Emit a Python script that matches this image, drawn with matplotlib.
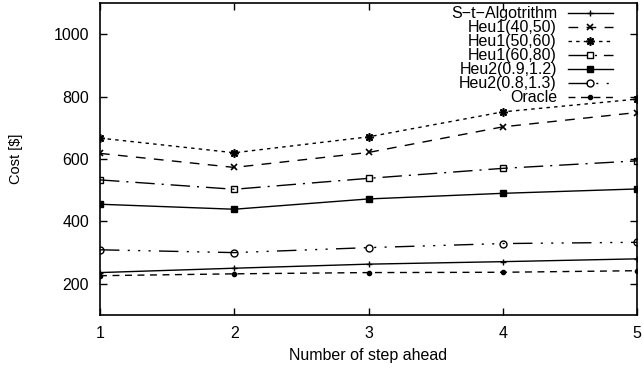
import numpy as np
import matplotlib
matplotlib.use('Agg')
import matplotlib.pyplot as plt

# data
steps = [1, 2, 3, 4, 5]
st_algo = [236, 250, 263, 271, 280]
heu1_40_50 = [618, 573, 621, 703, 749]
heu1_50_60 = [667, 620, 671, 751, 792]
heu1_60_80 = [533, 503, 538, 570, 594]
heu2_09_12 = [455, 439, 472, 490, 504]
heu2_08_13 = [309, 300, 316, 329, 333]
oracle = [226, 232, 236, 237, 242]

labels = ['S\u2212t\u2212Algotrithm', 'Heu1(40,50)', 'Heu1(50,60)', 'Heu1(60,80)',
          'Heu2(0.9,1.2)', 'Heu2(0.8,1.3)', 'Oracle']

plt.rcParams['font.family'] = ['Liberation Sans', 'DejaVu Sans']
plt.rcParams['font.size'] = 11.5

fig = plt.figure(figsize=(6.43, 3.69), dpi=100)
ax = fig.add_axes([0.1555, 0.1463, 0.8352, 0.8456])

kw = dict(color='black', lw=1.0)
ax.plot(steps, st_algo, linestyle='-', marker='+', ms=5, mew=1, label=labels[0], **kw)
ax.plot(steps, heu1_40_50, linestyle=(0, (7, 6)), marker='x', ms=4, mew=1.2, label=labels[1], **kw)
ax.plot(steps, heu1_50_60, linestyle=(0, (2.5, 3)), marker=(8, 2, 0), ms=6, mew=1.2, label=labels[2], **kw)
ax.plot(steps, heu1_60_80, linestyle=(0, (14, 5, 1.5, 5)), marker='s', ms=5, mew=1,
        mfc='none', label=labels[3], **kw)
ax.plot(steps, heu2_09_12, linestyle='-', marker='s', ms=5, label=labels[4], **kw)
ax.plot(steps, heu2_08_13, linestyle=(0, (14, 6, 1.5, 6, 1.5, 6, 1.5, 6)), marker='o', ms=5,
        mew=1, mfc='none', label=labels[5], **kw)
ax.plot(steps, oracle, linestyle=(0, (5, 4)), marker='o', ms=3, label=labels[6], **kw)

ax.set_xlim(1, 5)
ax.set_ylim(100, 1100)
ax.set_xticks(steps)
ax.set_yticks([200, 400, 600, 800, 1000])
ax.tick_params(direction='in', length=5, width=1, top=True, right=True, pad=8)
for s in ax.spines.values():
    s.set_linewidth(1.2)

ax.set_xlabel('Number of step ahead', labelpad=5)
ax.set_ylabel(r'Cost [\$]', labelpad=22, fontsize=10.5)

ax.legend(loc='upper right', frameon=False, markerfirst=False, handlelength=2.8,
          numpoints=1, labelspacing=-0.06, handletextpad=0.7, borderpad=0,
          borderaxespad=0, bbox_to_anchor=(0.955, 0.99))

fig.savefig('out.png', dpi=100)
